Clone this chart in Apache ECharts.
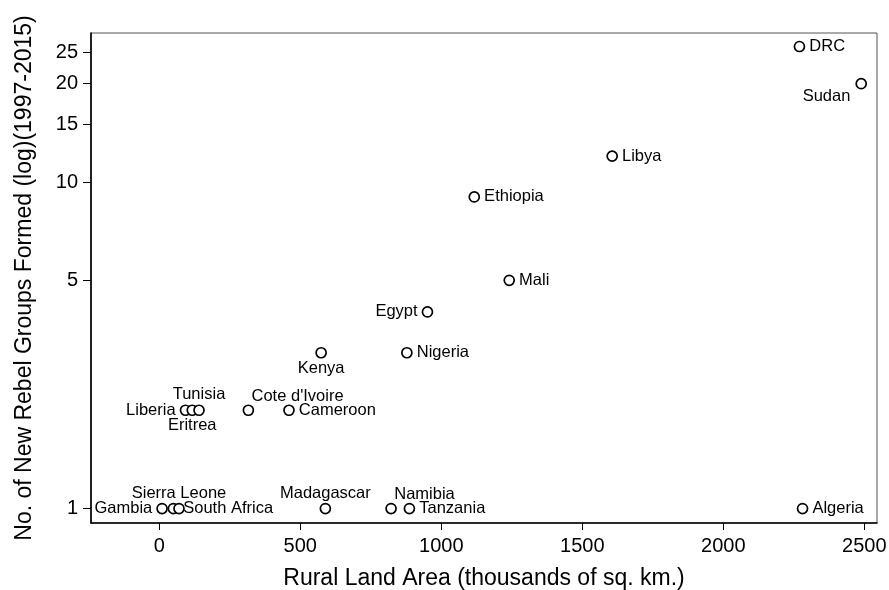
<!DOCTYPE html>
<html>
<head>
<meta charset="utf-8">
<script src="https://cdn.jsdelivr.net/npm/echarts@6/dist/echarts.min.js"></script>
<style>html,body{margin:0;padding:0;background:#fff}#c{width:889px;height:590px}</style>
</head>
<body>
<div id="c"></div>
<script>
const countries = ["DRC","Sudan","Libya","Ethiopia","Mali","Egypt","Nigeria","Kenya","Liberia","Eritrea","Tunisia","Cote d'Ivoire","Cameroon","Gambia","South Africa","Sierra Leone","Madagascar","Namibia","Tanzania","Algeria"];
const ruralLand = [2270,2489,1606,1117,1241,951,878,574,93,117,141,316,460,10,50,70,589,822,887,2281];
const rebelGroups = [26,20,12,9,5,4,3,3,2,2,2,2,2,1,1,1,1,1,1,1];
const xTicks = [0,500,1000,1500,2000,2500];
const yTicks = [1,5,10,15,20,25];

const labelPlacement = {
  "Sudan": "bottomleft", "Egypt": "left", "Liberia": "left", "Gambia": "left",
  "Tunisia": "top", "Sierra Leone": "top", "Madagascar": "top",
  "Kenya": "bottom", "Eritrea": "bottom",
  "Cote d'Ivoire": "topright", "Namibia": "topright"
};
function labelFor(name){
  const p = labelPlacement[name] || "right";
  if (p === "topright") return {position:[9,-8], align:'left', verticalAlign:'middle'};
  if (p === "bottomleft") return {position:[-5,19], align:'right', verticalAlign:'middle'};
  if (p === "top" || p === "bottom") return {position:p, distance:1};
  return {position:p, distance:4};
}
const data = countries.map((n,i)=>({name:n, value:[ruralLand[i], rebelGroups[i]], label:labelFor(n)}));

const font = "'Liberation Sans', Arial, Helvetica, sans-serif";
const chart = echarts.init(document.getElementById('c'), null, {renderer:'canvas'});
chart.setOption({
  animation:false,
  backgroundColor:'#fff',
  grid:{left:91, right:12, top:33, bottom:67, show:true, borderColor:'#555', borderWidth:1, containLabel:false, outerBoundsMode:'none'},
  xAxis:{
    type:'value', min:-242, max:2545,
    name:'Rural Land Area (thousands of sq. km.)', nameLocation:'middle', nameGap:44,
    nameTextStyle:{fontFamily:font, fontSize:23, color:'#000'},
    axisLine:{show:true, onZero:false, lineStyle:{color:'#000', width:1.6}},
    axisTick:{show:true, length:7, lineStyle:{color:'#000'}, customValues:xTicks},
    axisLabel:{fontFamily:font, fontSize:20, color:'#000', margin:13, customValues:xTicks, formatter:v=>String(v)},
    splitLine:{show:false}
  },
  yAxis:{
    type:'log', min:0.903, max:28.6,
    name:'No. of New Rebel Groups Formed (log)(1997-2015)', nameLocation:'middle', nameGap:55,
    nameTextStyle:{fontFamily:font, fontSize:23, color:'#000'},
    axisLine:{show:true, onZero:false, lineStyle:{color:'#000', width:1.6}},
    axisTick:{show:true, length:8, lineStyle:{color:'#000'}, customValues:yTicks},
    axisLabel:{fontFamily:font, fontSize:20, color:'#000', margin:13, customValues:yTicks, formatter:v=>String(v)},
    splitLine:{show:false}
  },
  series:[{
    type:'scatter',
    data:data,
    symbol:'circle', symbolSize:10,
    itemStyle:{color:'#fff', borderColor:'#000', borderWidth:1.7, opacity:1},
    label:{show:true, formatter:'{b}', fontFamily:font, fontSize:16.5, color:'#000', opacity:1},
    labelLayout:{hideOverlap:false}
  }]
});
</script>
</body>
</html>
